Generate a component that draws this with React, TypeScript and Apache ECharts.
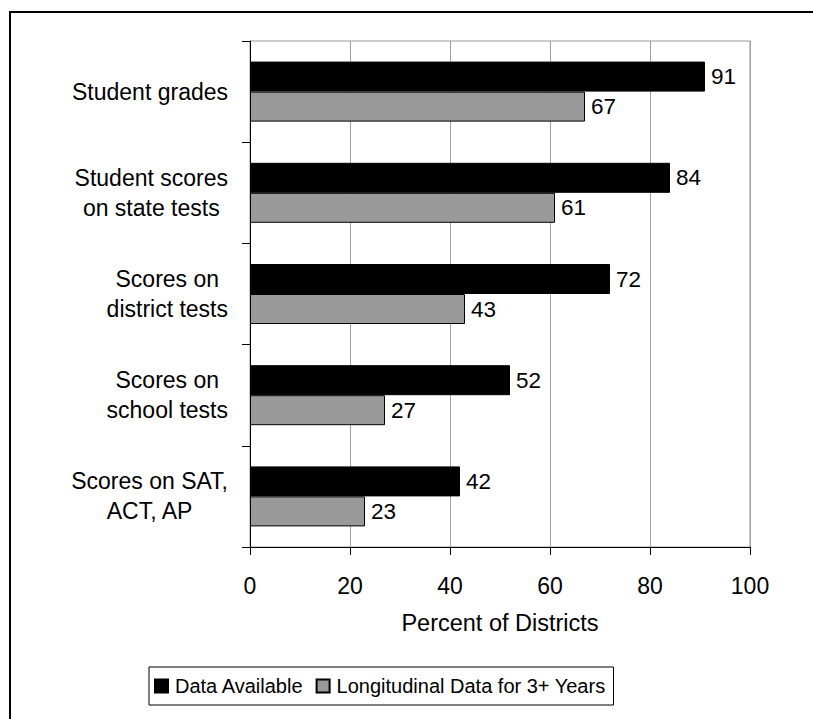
import React, { useEffect, useRef } from "react";
import * as echarts from "echarts";

const categories: string[] = [
  "Student grades",
  "Student scores\non state tests",
  "Scores on\ndistrict tests",
  "Scores on\nschool tests",
  "Scores on SAT,\nACT, AP",
];
const dataAvailable: number[] = [91, 84, 72, 52, 42];
const longitudinal: number[] = [67, 61, 43, 27, 23];
const seriesNames: string[] = ["Data Available", "Longitudinal Data for 3+ Years"];
const xTicks = { min: 0, max: 100, interval: 20 };
const axisName = "Percent of Districts";

const FONT = "'Liberation Sans', Arial, sans-serif";

export default function App() {
  const ref = useRef<HTMLDivElement>(null);
  useEffect(() => {
    if (!ref.current) return;
    const chart = echarts.init(ref.current, undefined, { renderer: "svg" });
    const labelStyle = {
      show: true,
      position: "right" as const,
      distance: 6,
      color: "#000",
      fontSize: 22.5,
      fontFamily: FONT,
    };
    chart.setOption({
      animation: false,
      backgroundColor: "#fff",
      textStyle: { fontFamily: FONT },
      graphic: [
        {
          type: "line",
          silent: true,
          shape: { x1: 10, y1: 11, x2: 10, y2: 719 },
          style: { stroke: "#000", lineWidth: 2 },
        },
        {
          type: "line",
          silent: true,
          shape: { x1: 9, y1: 12, x2: 813, y2: 12 },
          style: { stroke: "#000", lineWidth: 2 },
        },
      ],
      grid: {
        left: 250,
        right: 63,
        top: 41,
        bottom: 172,
        show: true,
        borderColor: "#999",
        borderWidth: 1,
        outerBoundsMode: "none",
      },
      legend: {
        data: seriesNames,
        left: 149,
        top: 667,
        orient: "horizontal",
        icon: "rect",
        itemWidth: 13,
        itemHeight: 13,
        itemGap: 12,
        padding: [9, 8, 9, 5],
        borderColor: "#000",
        borderWidth: 1,
        borderRadius: 0,
        textStyle: { fontSize: 20, color: "#000", fontFamily: FONT, padding: [0, 0, 0, 2] },
      },
      xAxis: {
        type: "value",
        min: xTicks.min,
        max: xTicks.max,
        interval: xTicks.interval,
        name: axisName,
        nameLocation: "middle",
        nameGap: 64,
        nameTextStyle: { fontSize: 23.5, color: "#000", fontFamily: FONT },
        axisLine: { show: true, lineStyle: { color: "#000", width: 1 } },
        axisTick: { show: true, length: 8, lineStyle: { color: "#000" } },
        axisLabel: { fontSize: 23, color: "#000", margin: 27, fontFamily: FONT },
        splitLine: { show: true, lineStyle: { color: "#a0a0a0", width: 1 } },
      },
      yAxis: {
        type: "category",
        data: categories,
        inverse: true,
        axisLine: { show: true, lineStyle: { color: "#000", width: 1 } },
        axisTick: { show: true, length: 8, interval: 0, lineStyle: { color: "#000" } },
        splitLine: { show: false },
        axisLabel: {
          interval: 0,
          margin: 22,
          align: "right",
          fontSize: 23,
          lineHeight: 30,
          color: "#000",
          fontFamily: FONT,
          formatter: (v: string) =>
            v
              .split("\n")
              .map((l) => "{c|" + l + "}")
              .join("\n"),
          rich: {
            c: {
              align: "center",
              fontSize: 23,
              lineHeight: 30,
              color: "#000",
              fontFamily: FONT,
            },
          },
        },
      },
      series: [
        {
          name: seriesNames[0],
          type: "bar",
          data: dataAvailable,
          barWidth: 30,
          barGap: "0%",
          itemStyle: { color: "#000", borderColor: "#000", borderWidth: 1 },
          label: labelStyle,
        },
        {
          name: seriesNames[1],
          type: "bar",
          data: longitudinal,
          barWidth: 30,
          barGap: "0%",
          itemStyle: { color: "#999999", borderColor: "#000", borderWidth: 1 },
          label: labelStyle,
        },
      ],
    });
    return () => chart.dispose();
  }, []);
  return (
    <div
      ref={ref}
      style={{ position: "fixed", left: 0, top: 0, width: 813, height: 719, background: "#fff" }}
    />
  );
}
